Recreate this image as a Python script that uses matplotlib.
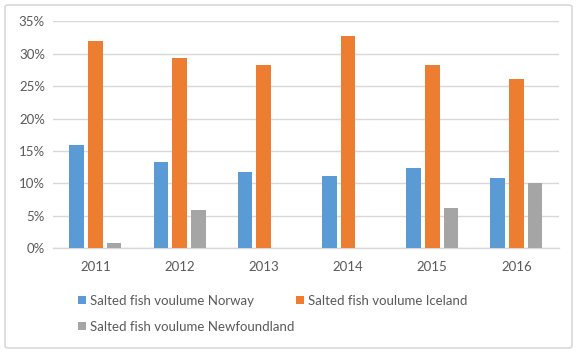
import numpy as np
import matplotlib.pyplot as plt
from matplotlib.patches import FancyBboxPatch
from matplotlib.ticker import FuncFormatter

years = ['2011', '2012', '2013', '2014', '2015', '2016']
norway = [0.159, 0.133, 0.118, 0.112, 0.124, 0.109]
iceland = [0.320, 0.293, 0.282, 0.328, 0.282, 0.261]
newfoundland = [0.008, 0.059, 0.0, 0.0, 0.062, 0.101]
series_names = ['Salted fish voulume Norway', 'Salted fish voulume Iceland',
                'Salted fish voulume Newfoundland']
colors = ['#5B9BD5', '#ED7D31', '#A5A5A5']

plt.rcParams['font.family'] = ['Lato', 'DejaVu Sans']
text_color = '#595959'
grid_color = '#D9D9D9'

fig = plt.figure(figsize=(5.77, 3.56), dpi=100)
ax = fig.add_axes([0.0924, 0.3025, 0.8756, 0.6375])

# outer chart border
fig.patches.append(FancyBboxPatch((5 / 577, 8 / 356), 567 / 577, 343 / 356,
                                  boxstyle='round,pad=0,rounding_size=0.006',
                                  transform=fig.transFigure, fill=False,
                                  edgecolor=grid_color, lw=1.2))

x = np.arange(len(years))
width = 0.175
offset = 0.222
bars = []
for i, (vals, c) in enumerate(zip([norway, iceland, newfoundland], colors)):
    b = ax.bar(x + (i - 1) * offset, vals, width, color=c, zorder=3)
    bars.append(b)

ax.set_xlim(-0.5, len(years) - 0.5)
ax.set_ylim(0, 0.35)
ax.set_yticks(np.arange(0, 0.351, 0.05))
ax.yaxis.set_major_formatter(FuncFormatter(lambda v, p: f'{v * 100:.0f}%'))
ax.set_xticks(x)
ax.set_xticklabels(years)
ax.grid(axis='y', color=grid_color, lw=1, zorder=0)
for s in ['top', 'right', 'left']:
    ax.spines[s].set_visible(False)
ax.spines['bottom'].set_color(grid_color)
ax.spines['bottom'].set_linewidth(1)
ax.tick_params(axis='both', length=0, colors=text_color, labelsize=9.5)
ax.tick_params(axis='x', pad=9)
ax.tick_params(axis='y', pad=6)

# legend: two entries on the first row, one on the second
leg_kw = dict(loc='upper left', frameon=False, fontsize=9.5, handlelength=0.6,
              handleheight=0.6, handletextpad=0.3, labelcolor=text_color)
leg1 = fig.legend(bars[:2], series_names[:2], ncol=2, columnspacing=3.2,
                  bbox_to_anchor=(0.115, 0.205), **leg_kw)
leg2 = fig.legend(bars[2:], series_names[2:],
                  bbox_to_anchor=(0.115, 0.132), **leg_kw)

fig.savefig('out.png', dpi=100)
